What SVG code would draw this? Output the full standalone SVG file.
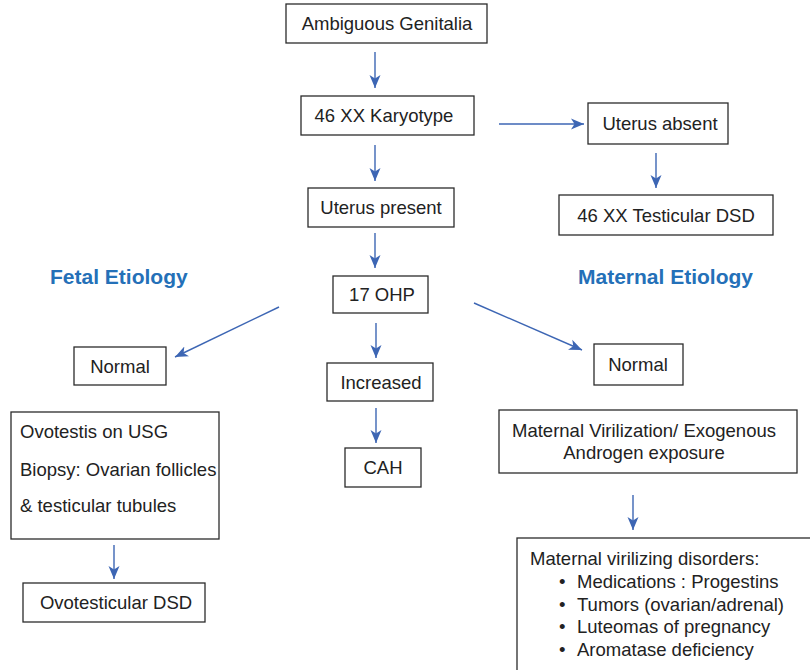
<svg xmlns="http://www.w3.org/2000/svg" width="810" height="670" viewBox="0 0 810 670">
  <style>
    .box { fill: #ffffff; stroke: #2b2b2b; stroke-width: 1.3; }
    .lbl { font-family: "Liberation Sans", Arial, sans-serif; font-size: 18.5px; fill: #222222; }
    .mid { text-anchor: middle; }
    .head { font-family: "Liberation Sans", Arial, sans-serif; font-size: 21px; font-weight: bold; fill: #2470b8; }
    .edge { fill: none; stroke: #3d66b4; stroke-width: 1.4; marker-end: url(#arrow); }
  </style>
  <defs>
    <marker id="arrow" markerUnits="userSpaceOnUse" markerWidth="14" markerHeight="12" viewBox="0 0 14 12" refX="13" refY="6" orient="auto">
      <path d="M0,0.5 L13,6 L0,11.5 L3.5,6 Z" fill="#3d66b4"/>
    </marker>
  </defs>

  <rect width="810" height="670" fill="#ffffff"/>

  <!-- section headings -->
  <text class="head" x="50" y="284">Fetal Etiology</text>
  <text class="head" x="578" y="284">Maternal Etiology</text>

  <!-- connectors -->
  <g id="connectors">
    <line class="edge" x1="375" y1="52" x2="375" y2="88"/>
    <line class="edge" x1="499" y1="124" x2="584" y2="124"/>
    <line class="edge" x1="656" y1="153" x2="656" y2="188"/>
    <line class="edge" x1="375" y1="145" x2="375" y2="181"/>
    <line class="edge" x1="375" y1="233" x2="375" y2="268"/>
    <line class="edge" x1="376" y1="323" x2="376" y2="358"/>
    <line class="edge" x1="376" y1="408" x2="376" y2="443"/>
    <line class="edge" x1="279" y1="307" x2="175" y2="357"/>
    <line class="edge" x1="474" y1="303" x2="582" y2="350"/>
    <line class="edge" x1="114" y1="545" x2="114" y2="579"/>
    <line class="edge" x1="633" y1="495" x2="633" y2="530"/>
  </g>

  <g id="ambiguous-genitalia">
    <rect class="box" x="286" y="4" width="201" height="39"/>
    <text class="lbl mid" x="387" y="30">Ambiguous Genitalia</text>
  </g>

  <g id="karyotype">
    <rect class="box" x="301" y="96" width="173" height="39"/>
    <text class="lbl mid" x="384" y="122">46 XX Karyotype</text>
  </g>

  <g id="uterus-absent">
    <rect class="box" x="588" y="103" width="140" height="41"/>
    <text class="lbl mid" x="660" y="130">Uterus absent</text>
  </g>

  <g id="testicular-dsd">
    <rect class="box" x="559" y="195" width="214" height="40"/>
    <text class="lbl mid" x="666" y="222">46 XX Testicular DSD</text>
  </g>

  <g id="uterus-present">
    <rect class="box" x="308" y="188" width="146" height="39"/>
    <text class="lbl mid" x="381" y="214">Uterus present</text>
  </g>

  <g id="ohp">
    <rect class="box" x="333" y="276" width="95" height="37"/>
    <text class="lbl mid" x="382" y="301">17 OHP</text>
  </g>

  <g id="increased">
    <rect class="box" x="327" y="363" width="106" height="38"/>
    <text class="lbl mid" x="381" y="389">Increased</text>
  </g>

  <g id="cah">
    <rect class="box" x="345" y="448" width="76" height="39"/>
    <text class="lbl mid" x="383" y="474">CAH</text>
  </g>

  <g id="fetal-normal">
    <rect class="box" x="74" y="347" width="92" height="38"/>
    <text class="lbl mid" x="120" y="373">Normal</text>
  </g>

  <g id="ovotestis">
    <rect class="box" x="11" y="412" width="208" height="127"/>
    <text class="lbl" x="20" y="438">Ovotestis on USG</text>
    <text class="lbl" x="20" y="476">Biopsy: Ovarian follicles</text>
    <text class="lbl" x="20" y="512">&amp; testicular tubules</text>
  </g>

  <g id="ovotesticular-dsd">
    <rect class="box" x="23" y="583" width="182" height="39"/>
    <text class="lbl mid" x="116" y="609">Ovotesticular DSD</text>
  </g>

  <g id="maternal-normal">
    <rect class="box" x="594" y="344" width="89" height="41"/>
    <text class="lbl mid" x="638" y="371">Normal</text>
  </g>

  <g id="maternal-virilization">
    <rect class="box" x="499" y="410" width="298" height="63"/>
    <text class="lbl mid" x="644" y="437">Maternal Virilization/ Exogenous</text>
    <text class="lbl mid" x="644" y="459">Androgen exposure</text>
  </g>

  <g id="virilizing-disorders">
    <rect class="box" x="517" y="538" width="310" height="150"/>
    <text class="lbl" x="530" y="565">Maternal virilizing disorders:</text>
    <text class="lbl" x="559" y="588">•</text>
    <text class="lbl" x="577" y="588">Medications : Progestins</text>
    <text class="lbl" x="559" y="611">•</text>
    <text class="lbl" x="577" y="611">Tumors (ovarian/adrenal)</text>
    <text class="lbl" x="559" y="633">•</text>
    <text class="lbl" x="577" y="633">Luteomas of pregnancy</text>
    <text class="lbl" x="559" y="656">•</text>
    <text class="lbl" x="577" y="656">Aromatase deficiency</text>
  </g>
</svg>
